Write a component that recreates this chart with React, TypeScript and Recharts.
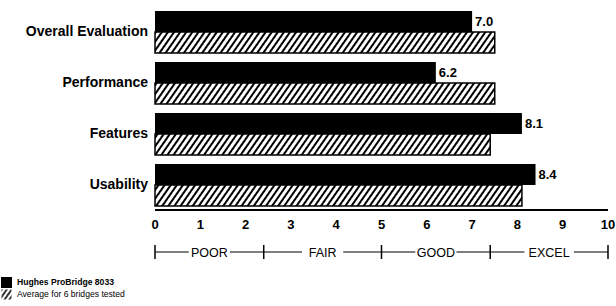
import { BarChart, Bar, XAxis, YAxis, LabelList } from 'recharts';

const categories = ['Overall Evaluation', 'Performance', 'Features', 'Usability'];
const hughes = [7.0, 6.2, 8.1, 8.4];
const average = [7.5, 7.5, 7.4, 8.1];
const seriesNames = ['Hughes ProBridge 8033', 'Average for 6 bridges tested'];
const xTicks = [0, 1, 2, 3, 4, 5, 6, 7, 8, 9, 10];
const scaleBounds = [0, 2.4, 5, 7.4, 10];
const scaleLabels = ['POOR', 'FAIR', 'GOOD', 'EXCEL'];

const data = categories.map((name, i) => ({ name, hughes: hughes[i], average: average[i] }));

// label positions sit halfway between rating boundaries
const labelTicks = scaleLabels.map((_, i) => (scaleBounds[i] + scaleBounds[i + 1]) / 2);
const scaleTicks = [...scaleBounds, ...labelTicks].sort((a, b) => a - b);

const font = '"Liberation Sans", Arial, sans-serif';

const renderScaleTick = (props: any) => {
    const { x, y, payload, index } = props;
    const v = Number(payload.value);
    const b = scaleBounds.findIndex((s) => Math.abs(s - v) < 1e-6);
    if (b >= 0) {
        return <line key={'b' + index} x1={x} x2={x} y1={y - 7} y2={y + 7} stroke="#000" strokeWidth={1.5} />;
    }
    const li = labelTicks.findIndex((s) => Math.abs(s - v) < 1e-6);
    const label = scaleLabels[li] ?? '';
    const w = label.length * 8.3 + 8;
    return (
        <g key={'l' + index}>
            <rect x={x - w / 2} y={y - 8} width={w} height={16} fill="#fff" />
            <text x={x} y={y} dy="0.36em" textAnchor="middle" fontSize={12.5} fontWeight={500} fontFamily={font} fill="#000">
                {label}
            </text>
        </g>
    );
};

export default function App() {
    return (
        <div style={{ position: 'absolute', left: 0, top: 0, width: 616, height: 306, background: '#fff' }}>
            <BarChart
                width={616}
                height={306}
                data={data}
                layout="vertical"
                margin={{ top: 6, right: 8, left: 0, bottom: 30 }}
                barSize={21}
                barGap={0}
            >
                <defs>
                    <pattern id="hatch" patternUnits="userSpaceOnUse" width={5} height={5} patternTransform="rotate(35)">
                        <rect width={5} height={5} fill="#fff" />
                        <line x1={1} y1={0} x2={1} y2={5} stroke="#000" strokeWidth={2} />
                    </pattern>
                </defs>
                <XAxis
                    xAxisId="main"
                    type="number"
                    domain={[0, 10]}
                    ticks={xTicks}
                    interval={0}
                    height={42}
                    tickLine={false}
                    tickSize={0}
                    tickMargin={10}
                    axisLine={{ stroke: '#000', strokeWidth: 2 }}
                    tick={{ fill: '#000', fontSize: 13, fontWeight: 'bold', fontFamily: font }}
                />
                <XAxis
                    xAxisId="scale"
                    type="number"
                    domain={[0, 10]}
                    ticks={scaleTicks}
                    interval={0}
                    height={24}
                    tickLine={false}
                    tickSize={0}
                    tickMargin={0}
                    axisLine={{ stroke: '#000', strokeWidth: 1.2 }}
                    tick={renderScaleTick}
                />
                <YAxis
                    type="category"
                    dataKey="name"
                    width={155}
                    axisLine={false}
                    tickLine={false}
                    tickSize={0}
                    tickMargin={7}
                    tick={{ fill: '#000', fontSize: 14, fontWeight: 'bold', fontFamily: font }}
                />
                <Bar xAxisId="main" dataKey="hughes" name={seriesNames[0]} fill="#000" isAnimationActive={false}>
                    <LabelList
                        dataKey="hughes"
                        position="right"
                        offset={3}
                        formatter={(v: any) => Number(v).toFixed(1)}
                        style={{ fill: '#000', fontSize: 13, fontWeight: 'bold', fontFamily: font }}
                    />
                </Bar>
                <Bar
                    xAxisId="scale"
                    dataKey="average"
                    name={seriesNames[1]}
                    fill="url(#hatch)"
                    stroke="#000"
                    strokeWidth={1.5}
                    isAnimationActive={false}
                />
            </BarChart>
            <div style={{ position: 'absolute', left: 1, top: 277, fontFamily: font, fontSize: 8.6, color: '#000', lineHeight: '11.5px' }}>
                <div style={{ display: 'flex', alignItems: 'center' }}>
                    <svg width={12} height={11} style={{ marginRight: 4 }}>
                        <rect x={0} y={0} width={11} height={11} fill="#000" />
                    </svg>
                    <span style={{ fontWeight: 'bold' }}>{seriesNames[0]}</span>
                </div>
                <div style={{ display: 'flex', alignItems: 'center' }}>
                    <svg width={12} height={11} style={{ marginRight: 4 }}>
                        <defs>
                            <pattern id="hatchLeg" patternUnits="userSpaceOnUse" width={4} height={4} patternTransform="rotate(35)">
                                <rect width={4} height={4} fill="#fff" />
                                <line x1={1} y1={0} x2={1} y2={4} stroke="#000" strokeWidth={1.6} />
                            </pattern>
                        </defs>
                        <rect x={0.5} y={0.5} width={10} height={10} fill="url(#hatchLeg)" />
                    </svg>
                    <span>{seriesNames[1]}</span>
                </div>
            </div>
        </div>
    );
}
